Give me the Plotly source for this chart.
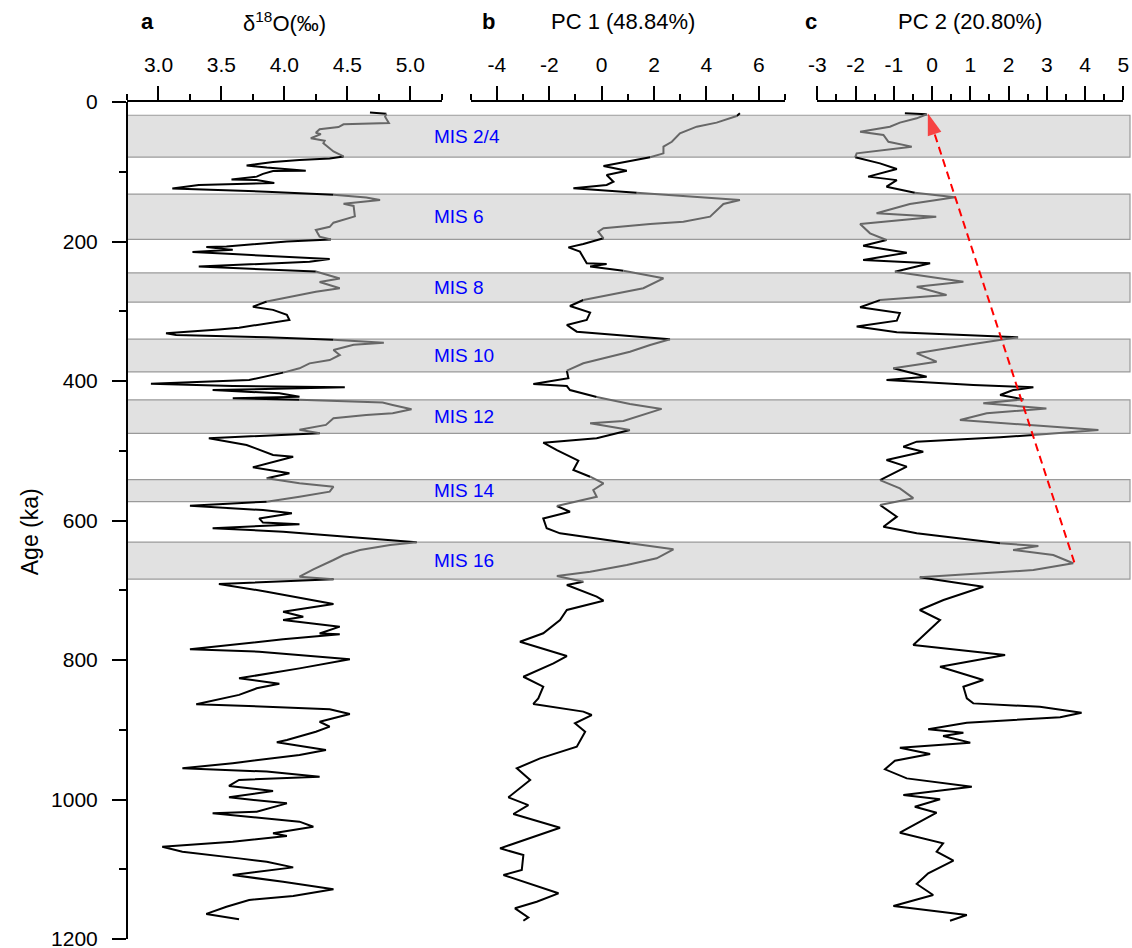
import plotly.graph_objects as go

# ---------------- data ----------------
band_top = [19, 132, 245, 340, 427, 541.5, 631]
band_bot = [79, 197, 287, 387, 475, 573, 684]
band_labels = ["MIS 2/4", "MIS 6", "MIS 8", "MIS 10", "MIS 12", "MIS 14", "MIS 16"]

a_age = [15, 17, 21, 30, 31.5, 32, 36, 39, 44, 46, 52, 55.5, 59, 71, 78, 81, 83, 86, 91, 94,
         98.5, 99, 103, 107, 111, 112, 116, 119, 124, 128.6, 133, 137, 140.5, 143, 146, 149, 164,
         173, 179, 183.5, 193, 197, 200, 207, 208, 212, 215, 218, 224, 225, 229, 236, 238.5, 243,
         253, 258, 262, 267, 272, 277, 284, 286, 293.5, 298, 305, 312.5, 323.6, 326, 331.6, 334,
         337.4, 341, 345, 348, 355.6, 362.7, 370, 374.7, 381.8, 388, 398.6, 404, 407, 409, 413,
         417.7, 422.5, 424.8, 427, 431, 434.4, 440.6, 446.3, 448.7, 453.5, 463, 470, 475, 478.8,
         482, 491.8, 506, 508.5, 523.7, 532.3, 539.5, 546.7, 551.5, 558.7, 566, 573, 579, 585,
         589.7, 597, 603, 605.5, 611, 616, 625.5, 631.3, 635, 642.3, 649.5, 656.6, 670, 680.6,
         684.4, 691, 702, 719.7, 730.7, 738, 742.7, 752.2, 762, 763, 770.4, 784.7, 788, 797.6, 799,
         812, 826.3, 834, 840.6, 850, 863.5, 867, 870.7, 877.4, 888.5, 895.6, 902.8, 914.7, 918,
         929, 936.2, 948, 955.3, 960, 967.3, 972, 980.6, 987.8, 996.9, 1005.5, 1017.5, 1019.8,
         1031.8, 1039, 1048.5, 1052.3, 1060.5, 1067.7, 1074.8, 1084.4, 1089.2, 1097.3, 1108.3,
         1117.9, 1128.8, 1138.4, 1144, 1153.7, 1164, 1171.8]
a_val = [4.68, 4.81, 4.80, 4.83, 4.65, 4.47, 4.43, 4.28, 4.25, 4.29, 4.21, 4.32, 4.31, 4.39, 4.47,
         4.36, 4.12, 3.91, 3.70, 3.86, 4.17, 3.91, 3.83, 3.78, 3.58, 3.78, 3.92, 3.32, 3.11, 3.86,
         4.39, 4.65, 4.76, 4.63, 4.47, 4.55, 4.56, 4.39, 4.36, 4.25, 4.28, 4.37, 4.02, 3.54, 3.38,
         3.59, 3.27, 3.59, 4.28, 4.36, 4.20, 3.32, 3.64, 4.25, 4.44, 4.28, 4.36, 4.44, 4.25, 4.12,
         3.91, 3.86, 3.75, 3.91, 4.02, 4.04, 3.64, 3.48, 3.06, 3.14, 3.86, 4.39, 4.79, 4.55, 4.39,
         4.44, 4.36, 4.20, 4.12, 3.99, 3.72, 2.94, 3.59, 4.48, 3.43, 3.96, 4.12, 3.59, 4.12, 4.78,
         4.86, 5.01, 4.86, 4.65, 4.39, 4.33, 4.12, 4.28, 3.80, 3.40, 3.70, 3.91, 4.07, 3.75, 4.04,
         3.86, 4.12, 4.39, 4.36, 4.12, 3.86, 3.25, 3.83, 4.06, 3.80, 3.83, 4.12, 3.43, 3.99, 4.65,
         5.05, 4.84, 4.60, 4.47, 4.39, 4.23, 4.12, 4.39, 3.48, 3.86, 4.39, 3.99, 4.15, 3.99, 4.44,
         4.28, 4.44, 3.99, 3.25, 3.80, 4.39, 4.52, 4.12, 3.64, 3.96, 3.78, 3.64, 3.30, 3.86, 4.36,
         4.52, 4.28, 4.36, 4.25, 4.02, 3.94, 4.33, 4.12, 3.59, 3.19, 3.86, 4.28, 3.64, 3.56, 3.91,
         3.56, 4.02, 3.78, 3.43, 4.12, 4.23, 3.91, 4.02, 3.59, 3.03, 3.19, 3.64, 3.86, 4.07, 3.59,
         3.99, 4.39, 4.07, 3.72, 3.54, 3.38, 3.64]

b_age = [16, 20, 29.6, 35.4, 45, 57, 64, 73.6, 79.3, 87, 91.8, 98.5, 104.7, 114.3, 119, 123.7,
         130, 135.8, 140.5, 146.2, 154.8, 164.4, 171.6, 175, 181, 186, 195.4, 203.6, 208.4, 214.6,
         231.3, 232.3, 236, 241.9, 252.8, 267, 274.3, 283.9, 292.5, 302, 312.5, 319.7, 329.3, 334,
         340.2, 348.4, 358, 367.4, 374.6, 385.2, 396, 404.3, 407.2, 413, 423, 433, 440, 457.3,
         460.7, 470.3, 482, 488.4, 499, 514.3, 527.6, 537.2, 546.7, 556.3, 566, 579.2, 587.4, 597,
         611.2, 618.4, 632.7, 641.3, 654.2, 663.8, 673.4, 679.6, 687.7, 692.5, 709.2, 715, 728.3,
         742.7, 761.7, 773.8, 794.3, 804.8, 824, 838.3, 855, 863, 874, 878.9, 890.8, 902.8, 924.3,
         941, 955.3, 972, 996.9, 1008, 1020.8, 1040.4, 1070, 1079.6, 1101, 1108.3, 1134.5, 1146.5,
         1156, 1169, 1173.8]
b_val = [5.28, 5.16, 4.39, 3.63, 2.99, 2.68, 2.36, 2.36, 1.85, 0.83, 0.07, 0.96, 0.19, 0.45, 0.19,
         -1.08, 1.34, 3.76, 5.28, 4.65, 4.39, 4.14, 3.12, 1.85, 0.07, -0.13, 0.07, -0.70, -1.27,
         -0.83, -0.57, 0.19, -0.44, 0.83, 2.36, 1.59, 0.58, -0.70, -1.21, -0.44, -0.57, -1.33,
         -0.95, 0.58, 2.61, 1.85, 1.08, 0.07, -0.70, -1.33, -1.27, -2.61, -1.33, -1.21, -0.19,
         1.08, 2.29, 0.83, -0.44, 1.08, -0.19, -2.23, -1.71, -0.89, -1.08, -0.44, 0.07, -0.32,
         -0.19, -1.71, -1.21, -2.23, -2.10, -1.59, 1.08, 2.74, 2.10, 0.96, -0.44, -1.71, -0.70,
         -1.33, -0.19, 0.07, -1.33, -1.59, -2.23, -3.12, -1.33, -1.84, -2.99, -2.23, -2.42, -2.61,
         -0.70, -0.38, -1.02, -0.63, -0.95, -2.35, -3.24, -2.73, -3.56, -2.80, -3.37, -1.59, -3.88,
         -2.99, -3.05, -3.75, -1.65, -2.48, -3.31, -2.80, -2.99]

c_age = [16.2, 17.6, 23.4, 29.6, 35.4, 42.6, 47.3, 57, 64, 73.6, 79.3, 88, 96, 107, 112, 121.4,
         130, 136.7, 146.2, 159.6, 164.4, 175, 188.3, 197.8, 206, 216, 226.5, 231.3, 243.3, 257.6,
         264.8, 276.7, 284, 294.3, 302.7, 313.5, 322, 330.2, 337.4, 348.4, 360.3, 372.3, 381.8,
         393.8, 398.6, 405.7, 409, 413, 420, 426.3, 432, 439.3, 446.3, 455.9, 463, 470.3, 477.4,
         480.8, 487, 494.2, 501.4, 513.3, 522.8, 542, 554, 568, 577.8, 594.5, 608.9, 618.4, 632.7,
         636.6, 642.3, 649.5, 661.3, 671, 681.5, 687.7, 694.9, 714, 728.3, 742.7, 778.5, 792.8,
         809.6, 828.7, 838.3, 855, 862.2, 867, 875.5, 882.2, 889.8, 899.4, 904.2, 909, 918.5, 925.7,
         934.8, 944.3, 956.7, 969.7, 981.6, 993.5, 999.7, 1010.3, 1018.9, 1047.6, 1062.8, 1074.8,
         1087.7, 1105.8, 1121.1, 1136.9, 1152.7, 1165.6, 1173.8]
c_val = [-0.71, -0.14, -0.40, -0.84, -1.10, -1.88, -1.27, -1.14, -0.53, -1.97, -2.01, -1.36, -0.92,
         -1.67, -0.92, -1.19, -0.45, 0.60, -0.58, -1.45, 0.11, -1.88, -1.62, -1.19, -1.80, -0.66,
         -1.80, -0.05, -0.97, 0.82, -0.40, 0.38, -1.36, -1.88, -0.84, -0.92, -1.97, -0.92, 2.25,
         0.91, -0.40, 0.12, -1.01, -0.14, -1.19, 1.08, 2.65, 2.12, 1.78, 2.39, 1.34, 2.99, 1.43,
         0.73, 2.47, 4.35, 2.65, 1.78, -0.40, -0.75, -0.23, -1.19, -0.66, -1.36, -0.84, -0.49,
         -1.36, -0.92, -1.27, -0.40, 1.78, 2.78, 2.12, 3.17, 3.69, 2.65, -0.32, 0.46, 1.34, 0.30,
         -0.32, 0.21, -0.49, 1.91, 0.21, 1.34, 0.82, 0.91, 1.08, 2.82, 3.91, 3.35, 0.91, -0.10,
         0.82, 0.29, 1.00, -0.84, -0.05, -0.97, -1.23, -0.66, 1.04, -0.75, 0.21, -0.45, 0.12,
         -0.84, 0.29, 0.12, 0.56, -0.10, -0.40, 0.03, -1.01, 0.91, 0.47]

arrow_x = [3.72, -0.11]
arrow_age = [660, 16]

a_tickvals = [3.0, 3.5, 4.0, 4.5, 5.0]
a_ticktext = ["3.0", "3.5", "4.0", "4.5", "5.0"]
b_tickvals = [-4, -2, 0, 2, 4, 6]
b_ticktext = ["-4", "-2", "0", "2", "4", "6"]
c_tickvals = [-3, -2, -1, 0, 1, 2, 3, 4, 5]
c_ticktext = ["-3", "-2", "-1", "0", "1", "2", "3", "4", "5"]
y_tickvals = [0, 200, 400, 600, 800, 1000, 1200]

FONT = "Arial, Liberation Sans, sans-serif"
BLACK = "#000000"
GRAY = "#676767"


def in_band(age):
    return any(t <= age <= b for t, b in zip(band_top, band_bot))


def split_runs(age, val):
    """Split a curve into runs inside bands (gray) and outside (black)."""
    runs = []
    cur_flag = None
    cur = None
    for i in range(len(age) - 1):
        flag = in_band(0.5 * (age[i] + age[i + 1]))
        if flag != cur_flag:
            if cur is not None:
                runs.append((cur_flag, cur))
            cur = ([val[i]], [age[i]])
            cur_flag = flag
        cur[0].append(val[i + 1])
        cur[1].append(age[i + 1])
    runs.append((cur_flag, cur))
    out = {True: ([], []), False: ([], [])}
    for flag, (xs, ys) in runs:
        out[flag][0].extend(xs + [None])
        out[flag][1].extend(ys + [None])
    return out


fig = go.Figure()

for xa, age, val in [("x", a_age, a_val), ("x2", b_age, b_val), ("x3", c_age, c_val)]:
    parts = split_runs(age, val)
    for flag, color in [(False, BLACK), (True, GRAY)]:
        xs, ys = parts[flag]
        fig.add_trace(go.Scatter(x=xs, y=ys, xaxis=xa, yaxis="y", mode="lines",
                                 line=dict(color=color, width=2), connectgaps=False,
                                 hoverinfo="skip"))

# red dashed arrow (panel c)
fig.add_trace(go.Scatter(
    x=arrow_x, y=arrow_age, xaxis="x3", yaxis="y", mode="lines+markers",
    line=dict(color="#ff0000", width=2, dash="8px,5px"),
    marker=dict(symbol="arrow", size=[0, 23], color="#ff0000", angleref="previous",
                line=dict(width=0)),
    hoverinfo="skip"))

# bands
for t, b, lab in zip(band_top, band_bot, band_labels):
    fig.add_shape(type="rect", xref="paper", yref="y", x0=0, x1=1, y0=t, y1=b,
                  fillcolor="#e1e1e1", line=dict(color="#9a9a9a", width=1.2), layer="below")
    fig.add_annotation(x=0.3041, xref="paper", y=(t + b) / 2, yref="y", text=lab,
                       showarrow=False, xanchor="left", yanchor="middle",
                       font=dict(family=FONT, size=19, color="#0000ff"))


def xaxis(domain, rng, tv, tt, minor_dtick, minor_tick0):
    return dict(domain=domain, range=rng, side="top", anchor="y", showline=True,
                linecolor="black", linewidth=2, ticks="outside", ticklen=14, tickwidth=2,
                tickcolor="black", tickmode="array", tickvals=tv, ticktext=tt,
                minor=dict(ticks="outside", ticklen=6, tickwidth=2, tickcolor="black",
                           dtick=minor_dtick, tick0=minor_tick0, showgrid=False),
                showgrid=False, zeroline=False, ticklabelstandoff=6,
                ticklabeloverflow="allow", automargin=False,
                tickfont=dict(family=FONT, size=21, color="black"))


fig.update_layout(
    width=1132, height=948,
    margin=dict(l=127, r=2, t=102, b=9, autoexpand=False),
    paper_bgcolor="white", plot_bgcolor="white",
    showlegend=False,
    xaxis=xaxis([0, 0.3138], [2.75, 5.25], a_tickvals, a_ticktext, 0.25, 2.75),
    xaxis2=xaxis([0.3427, 0.6560], [-5, 7], b_tickvals, b_ticktext, 1, -5),
    xaxis3=xaxis([0.6882, 0.9933], [-3, 5], c_tickvals, c_ticktext, 0.5, -3),
    yaxis=dict(range=[1200, 0], domain=[0, 1], anchor="free", position=0, showline=True,
               linecolor="black", linewidth=2, ticks="outside", ticklen=14, tickwidth=2,
               tickcolor="black", tickmode="array", tickvals=y_tickvals,
               minor=dict(ticks="outside", ticklen=7, tickwidth=2, tickcolor="black",
                          dtick=100, tick0=0, showgrid=False),
               showgrid=False, zeroline=False, ticklabelstandoff=10,
               ticklabeloverflow="allow", automargin=False,
               tickfont=dict(family=FONT, size=21, color="black")),
)

title_y = 1.0956
for x, txt, bold in [(0.0209, "a", True), (0.1575, "δ<sup>18</sup>O(‰)", False),
                     (0.3600, "b", True), (0.4945, "PC 1 (48.84%)", False),
                     (0.6819, "c", True), (0.8405, "PC 2 (20.80%)", False)]:
    fig.add_annotation(x=x, y=title_y, xref="paper", yref="paper", showarrow=False,
                       text=("<b>%s</b>" % txt) if bold else txt,
                       xanchor="center", yanchor="middle",
                       font=dict(family=FONT, size=22, color="black"))

fig.add_annotation(x=-0.0967, y=0.486, xref="paper", yref="paper", showarrow=False,
                   text="Age (ka)", textangle=-90, xanchor="center", yanchor="middle",
                   font=dict(family=FONT, size=23, color="black"))

fig.write_html("out.html")
